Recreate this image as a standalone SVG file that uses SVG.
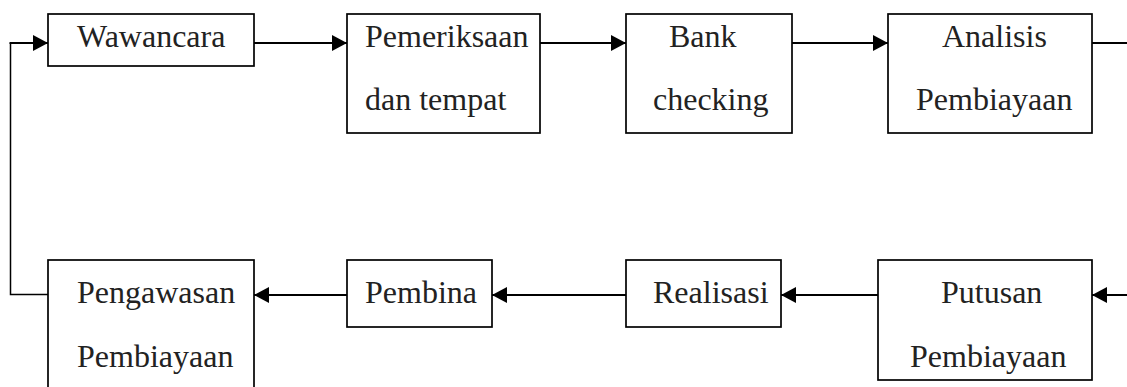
<svg xmlns="http://www.w3.org/2000/svg" width="1127" height="387" viewBox="0 0 1127 387">
<defs>
<marker id="ah" viewBox="0 0 15 16" refX="15" refY="8" markerWidth="15" markerHeight="16" markerUnits="userSpaceOnUse" orient="auto">
<path d="M0,0 L15,8 L0,16 Z" fill="#000"/>
</marker>
<style>
.box{fill:#fff;stroke:#000;stroke-width:1.7}
.t{font-family:"Liberation Serif","Times New Roman",serif;font-size:32px;fill:#222}
.c{fill:none;stroke:#000;stroke-width:2}
.a{marker-end:url(#ah)}
</style>
</defs>
<g id="connectors">
<line class="c a" x1="254" y1="43" x2="347" y2="43"/>
<line class="c a" x1="540" y1="43" x2="626" y2="43"/>
<line class="c a" x1="792" y1="43" x2="888" y2="43"/>
<line class="c" x1="1092" y1="43" x2="1127" y2="43"/>
<line class="c a" x1="1127" y1="295" x2="1092" y2="295"/>
<line class="c a" x1="878" y1="295" x2="781" y2="295"/>
<line class="c a" x1="626" y1="295" x2="492" y2="295"/>
<line class="c a" x1="347" y1="295" x2="254" y2="295"/>
<polyline class="c" style="stroke-width:1.5" points="48,294.5 10.5,294.5 10.5,43"/>
<line class="c a" x1="9.5" y1="43" x2="48" y2="43"/>
</g>
<g id="wawancara">
<rect class="box" x="48" y="14" width="206" height="52"/>
<text class="t" x="77" y="47">Wawancara</text>
</g>
<g id="pemeriksaan">
<rect class="box" x="347" y="14" width="193" height="119"/>
<text class="t" x="365" y="47">Pemeriksaan</text>
<text class="t" x="365" y="110">dan tempat</text>
</g>
<g id="bank">
<rect class="box" x="626" y="14" width="166" height="119"/>
<text class="t" x="669" y="47">Bank</text>
<text class="t" x="653" y="110">checking</text>
</g>
<g id="analisis">
<rect class="box" x="888" y="14" width="204" height="119"/>
<text class="t" x="942" y="47">Analisis</text>
<text class="t" x="916" y="110">Pembiayaan</text>
</g>
<g id="putusan">
<rect class="box" x="878" y="260" width="214" height="120"/>
<text class="t" x="941" y="303">Putusan</text>
<text class="t" x="910" y="367">Pembiayaan</text>
</g>
<g id="realisasi">
<rect class="box" x="626" y="260" width="155" height="67"/>
<text class="t" x="653" y="303">Realisasi</text>
</g>
<g id="pembina">
<rect class="box" x="347" y="260" width="145" height="67"/>
<text class="t" x="365" y="303">Pembina</text>
</g>
<g id="pengawasan">
<rect class="box" x="48" y="260" width="206" height="140"/>
<text class="t" x="77" y="303">Pengawasan</text>
<text class="t" x="77" y="367">Pembiayaan</text>
</g>
</svg>
